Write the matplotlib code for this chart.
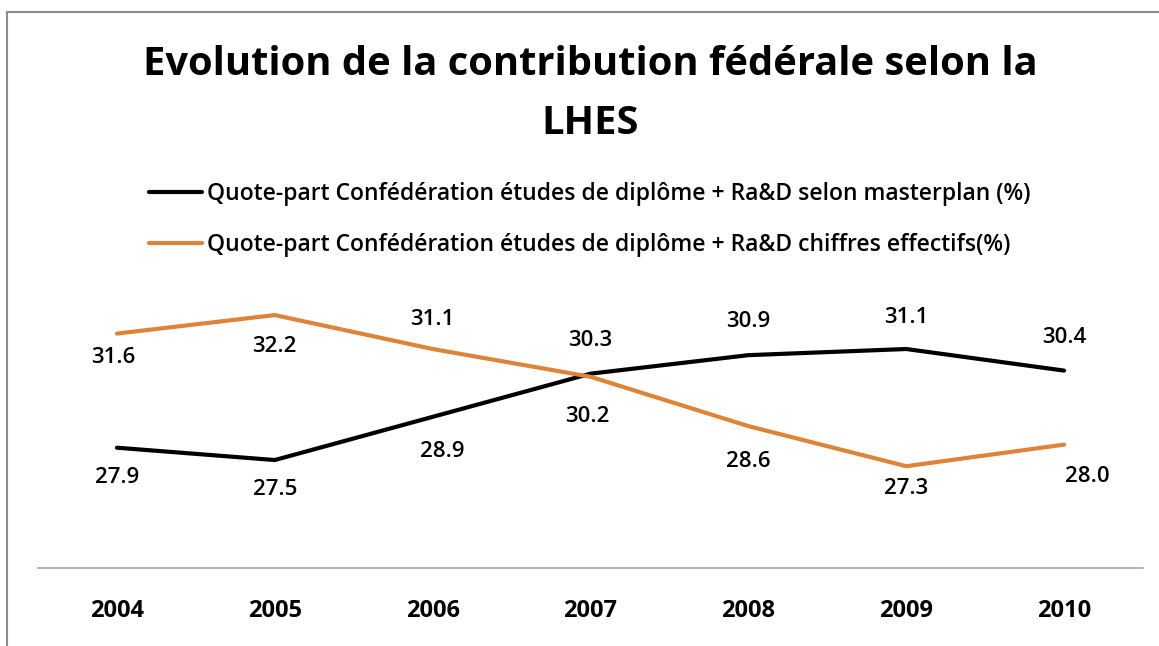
import matplotlib
matplotlib.use("Agg")
import matplotlib.pyplot as plt
from matplotlib.lines import Line2D

years = ["2004", "2005", "2006", "2007", "2008", "2009", "2010"]
masterplan = [27.9, 27.5, 28.9, 30.3, 30.9, 31.1, 30.4]
effectifs = [31.6, 32.2, 31.1, 30.2, 28.6, 27.3, 28.0]

label_master = "Quote-part Confédération études de diplôme + Ra&D selon masterplan (%)"
label_effectifs = "Quote-part Confédération études de diplôme + Ra&D chiffres effectifs(%)"
title = "Evolution de la contribution fédérale selon la\nLHES"

# label offsets in pixels (dx, dy), dy > 0 means above the point
master_offsets = [(0, -30), (0, -29), (10, -35), (0, 33), (0, 34), (0, 32), (0, 33)]
effectifs_offsets = [(-4, -24), (0, -31), (0, 30), (-3, -40), (0, -35), (0, -22), (23, -32)]

plt.rcParams["font.family"] = ["Open Sans", "DejaVu Sans"]

black = "#000000"
orange = "#DE8439"

fig = plt.figure(figsize=(11.59, 6.46), dpi=100)
ax = fig.add_axes([38 / 1159, 78 / 646, 1105 / 1159, 277.6 / 646])

x = list(range(len(years)))
ax.plot(x, masterplan, color=black, lw=3, solid_capstyle="round", label=label_master)
ax.plot(x, effectifs, color=orange, lw=3, solid_capstyle="round", label=label_effectifs)

for xi, v, (dx, dy) in zip(x, masterplan, master_offsets):
    ax.annotate(f"{v:.1f}", (xi, v), xytext=(dx, dy), textcoords="offset pixels",
                ha="center", va="center", fontsize=16, fontweight="semibold")
for xi, v, (dx, dy) in zip(x, effectifs, effectifs_offsets):
    ax.annotate(f"{v:.1f}", (xi, v), xytext=(dx, dy), textcoords="offset pixels",
                ha="center", va="center", fontsize=16, fontweight="semibold")

ax.set_xlim(-0.5, len(years) - 0.5)
ax.set_ylim(24, 33)
ax.set_xticks(x)
ax.set_xticklabels(years, fontsize=17, fontweight="bold")
ax.tick_params(axis="x", length=0, pad=22)
ax.set_yticks([])
for side in ["top", "left", "right"]:
    ax.spines[side].set_visible(False)
ax.spines["bottom"].set_color("#A6A6A6")
ax.spines["bottom"].set_linewidth(1.2)

fig.text(590 / 1159, 1 - 94 / 646, title, ha="center", va="center",
         fontsize=28.7, fontweight="bold", linespacing=1.65)

fig.legend(loc="upper left", bbox_to_anchor=(149 / 1159, 1 - 182 / 646),
           frameon=False, handlelength=2.33, handletextpad=0.2,
           labelspacing=1.18, borderpad=0, borderaxespad=0,
           prop={"size": 16.5, "weight": "semibold"})

# chart border (top and left, as in the cropped screenshot)
fig.add_artist(Line2D([7 / 1159, 1], [1 - 12 / 646, 1 - 12 / 646], color="#8C8C8C", lw=1.5,
                      transform=fig.transFigure))
fig.add_artist(Line2D([7 / 1159, 7 / 1159], [0, 1 - 12 / 646], color="#8C8C8C", lw=1.5,
                      transform=fig.transFigure))

fig.savefig("out.png", dpi=100)
